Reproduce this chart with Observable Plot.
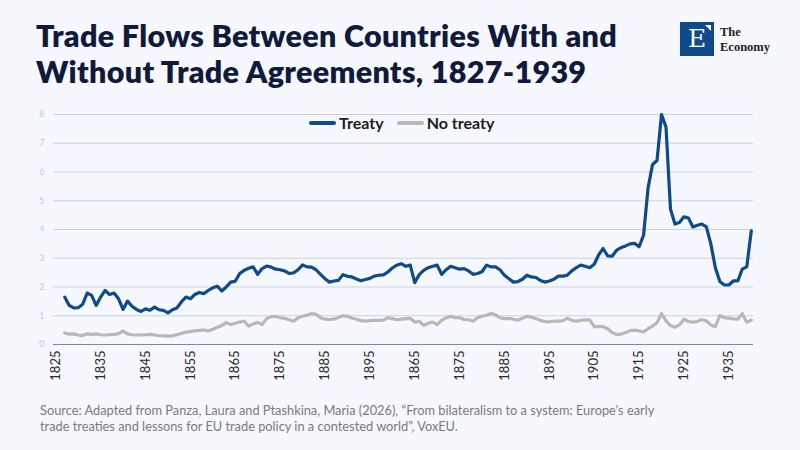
<!DOCTYPE html>
<html>
<head>
<meta charset="utf-8">
<script src="https://cdn.jsdelivr.net/npm/d3@7"></script>
<script src="https://cdn.jsdelivr.net/npm/@observablehq/plot@0.6"></script>
<style>
  html, body { margin: 0; padding: 0; background: #f7f8fd; }
  #wrap { position: relative; width: 800px; height: 450px; overflow: hidden; background: #f7f8fd; font-family: Lato, "Noto Sans", sans-serif; }
  #title { position: absolute; left: 36px; top: 17px; font-family: Lato, sans-serif; font-weight: 800; font-size: 30.5px; line-height: 36px; color: #0f1a3c; letter-spacing: 0.3px; white-space: nowrap; }
  #chart { position: absolute; left: 0; top: 100px; }
  #legend { position: absolute; top: 113px; left: 309px; display: flex; align-items: center; font-family: Lato, sans-serif; font-weight: 700; font-size: 16px; color: #1c1c1c; }
  .sw { display: inline-block; width: 27px; height: 4px; border-radius: 2px; margin-right: 3px; }
  #foot { position: absolute; left: 40px; top: 402px; font-family: Lato, sans-serif; font-size: 12.8px; line-height: 16px; color: #7a7a7a; white-space: nowrap; }
  #logo { position: absolute; left: 680px; top: 22px; width: 110px; height: 36px; }
  #logo .box { position: absolute; left: 0; top: 0; width: 34px; height: 34px; background: #0e4a8c; color: #fff; font-family: "DejaVu Serif", "Liberation Serif", serif; font-size: 25px; line-height: 34px; text-align: center; }
  #logo .tri { position: absolute; right: 3px; top: 3px; width: 0; height: 0; border-left: 6px solid transparent; border-top: 6px solid #fff; }
  #logo .n1, #logo .n2 { position: absolute; left: 40px; font-family: "Liberation Serif", "DejaVu Serif", serif; font-weight: 700; font-size: 12.5px; line-height: 14px; height: 14px; color: #222; white-space: nowrap; }
  #logo .n1 { top: 3px; }
  #logo .n2 { top: 18px; }
</style>
</head>
<body>
<div id="wrap">
  <div id="title">Trade Flows Between Countries With and<br>Without Trade Agreements, 1827-1939</div>
  <div id="logo"><div class="box">E<div class="tri"></div></div><div class="n1">The</div><div class="n2">Economy</div></div>
  <div id="chart"></div>
  <div id="legend"><span class="sw" style="background:#0e4a8c"></span><span style="margin-right:13px">Treaty</span><span class="sw" style="background:#b8b8b8"></span><span>No treaty</span></div>
  <div id="foot">Source: Adapted from Panza, Laura and Ptashkina, Maria (2026), “From bilateralism to a system: Europe’s early<br>trade treaties and lessons for EU trade policy in a contested world”, VoxEU.</div>
</div>
<script>
// Category labels as printed on the original x axis (one per category)
const years = [
  1825,1826,1827,1828,1829,1830,1831,1832,1833,1834,1835,1836,1837,1838,1839,1840,1841,1842,1843,1844,
  1845,1846,1847,1848,1849,1850,1851,1852,1853,1854,1855,1856,1857,1858,1859,1860,1861,1862,1863,1864,
  1865,1866,1867,1868,1869,1870,1871,1872,1873,1874,1875,1876,1877,1878,1879,1880,1881,1882,1883,1884,
  1885,1886,1887,1888,1889,1890,1891,1892,1893,1894,1895,1896,1897,1898,1899,1900,1901,1902,1903,1904,
  1865,1866,1867,1868,1869,1870,1871,1872,1873,1874,1875,1876,1877,1878,1879,1880,1881,1882,1883,1884,
  1885,1886,1887,1888,1889,1890,1891,1892,1893,1894,1895,1896,1897,1898,1899,1900,1901,1902,1903,1904,
  1905,1906,1907,1908,1909,1910,1911,1912,1913,1914,1915,1916,1917,1918,1919,1920,1921,1922,1923,1924,
  1925,1926,1927,1928,1929,1930,1931,1932,1933,1934,1935,1936,1937,1938,1939,1940
];

const treaty = [
  null,null,1.65,1.36,1.27,1.28,1.40,1.79,1.71,1.36,1.65,1.88,1.74,1.79,1.59,1.22,1.51,1.33,1.22,1.15,
  1.24,1.19,1.30,1.21,1.19,1.10,1.21,1.27,1.48,1.65,1.59,1.74,1.81,1.77,1.88,1.97,2.03,1.86,2.00,2.17,
  2.20,2.47,2.58,2.65,2.70,2.44,2.64,2.73,2.69,2.62,2.60,2.56,2.47,2.49,2.60,2.77,2.70,2.69,2.60,2.44,
  2.29,2.17,2.21,2.23,2.43,2.37,2.35,2.28,2.22,2.26,2.30,2.38,2.41,2.42,2.52,2.66,2.76,2.81,2.72,2.76,
  2.15,2.43,2.58,2.67,2.72,2.76,2.44,2.60,2.72,2.67,2.62,2.64,2.56,2.44,2.47,2.53,2.76,2.70,2.70,2.60,
  2.41,2.29,2.17,2.19,2.27,2.41,2.35,2.33,2.23,2.17,2.21,2.27,2.38,2.38,2.41,2.56,2.67,2.76,2.72,2.67,
  2.79,3.12,3.34,3.08,3.07,3.28,3.37,3.43,3.50,3.52,3.40,3.80,5.44,6.26,6.40,8.00,7.56,4.71,4.19,4.24,
  4.44,4.40,4.09,4.15,4.19,4.09,3.49,2.67,2.19,2.07,2.07,2.21,2.21,2.62,2.70,3.95
];

const noTreaty = [
  null,null,0.40,0.36,0.37,0.33,0.31,0.37,0.35,0.37,0.34,0.33,0.34,0.35,0.38,0.47,0.37,0.34,0.33,0.33,
  0.34,0.35,0.33,0.31,0.30,0.29,0.30,0.34,0.38,0.43,0.45,0.48,0.49,0.51,0.47,0.53,0.60,0.66,0.76,0.69,
  0.74,0.78,0.81,0.64,0.72,0.77,0.69,0.90,0.97,0.98,0.93,0.91,0.86,0.81,0.93,0.98,1.02,1.08,1.05,0.93,
  0.88,0.87,0.88,0.94,1.00,0.98,0.92,0.88,0.83,0.81,0.83,0.84,0.84,0.85,0.93,0.90,0.86,0.88,0.90,0.91,
  0.78,0.81,0.66,0.74,0.78,0.69,0.84,0.93,0.98,0.93,0.93,0.87,0.86,0.81,0.93,0.98,1.02,1.08,1.03,0.93,
  0.90,0.91,0.88,0.85,0.91,0.98,0.95,0.90,0.84,0.80,0.79,0.81,0.81,0.83,0.91,0.84,0.81,0.84,0.86,0.86,
  0.62,0.62,0.62,0.55,0.42,0.35,0.36,0.42,0.48,0.50,0.47,0.44,0.55,0.64,0.76,1.08,0.82,0.66,0.60,0.68,
  0.88,0.80,0.78,0.80,0.87,0.82,0.68,0.62,1.01,0.93,0.92,0.89,0.88,1.07,0.77,0.85
];

const yTicks = [0, 1, 2, 3, 4, 5, 6, 7, 8];
const xTickEvery = 10;

const idx = years.map((_, i) => i);
const xTicks = idx.filter(i => i % xTickEvery === 0);
const rows = (arr) => idx.map(i => ({i, v: arr[i]})).filter(d => d.v != null);

const chart = Plot.plot({
  width: 800,
  height: 295,
  marginTop: 14,
  marginBottom: 51,
  marginLeft: 53,
  marginRight: 47,
  style: {background: "transparent", fontFamily: "Lato, 'Noto Sans', sans-serif", overflow: "visible"},
  x: {domain: [-0.5, years.length - 0.5]},
  y: {domain: [0, 8]},
  marks: [
    Plot.gridY(yTicks.filter(t => t > 0), {stroke: "#c9d2e4", strokeOpacity: 1, strokeWidth: 1}),
    Plot.axisY(yTicks, {tickSize: 0, tickPadding: 9, fontSize: 9, color: "#c3cbdb", label: null}),
    Plot.axisX(xTicks, {tickSize: 0, tickPadding: 6, tickRotate: -90, fontSize: 13, color: "#2a2a2a", label: null, tickFormat: i => String(years[i])}),
    Plot.ruleY([0], {stroke: "#7d88a6", strokeWidth: 1.2}),
    Plot.line(rows(noTreaty), {x: "i", y: "v", stroke: "#b8b8b8", strokeWidth: 3.2, curve: "linear"}),
    Plot.line(rows(treaty), {x: "i", y: "v", stroke: "#0e4a8c", strokeWidth: 3.2, curve: "linear"})
  ]
});
document.getElementById("chart").appendChild(chart);
</script>
</body>
</html>
